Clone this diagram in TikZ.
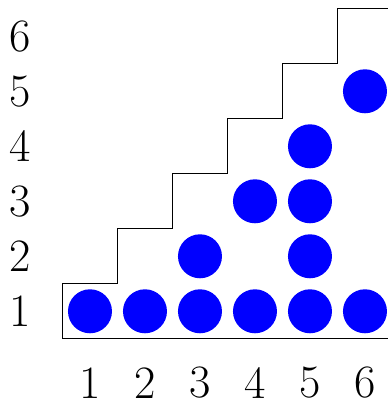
\documentclass[tikz,border=0pt]{standalone}
\usepackage{tikz}
\usetikzlibrary{positioning}

\begin{document}
\begin{tikzpicture}[
    dot/.style={circle, fill=blue, inner sep=0pt, minimum size=0.8cm},
    lbl/.style={font=\fontsize{24}{29}\selectfont, inner sep=0pt}
]
\useasboundingbox (-0.636,-0.613) rectangle (6.418,6.66);

% staircase and base line
\begin{scope}
\clip (-0.636,-0.613) rectangle (6.418,6.66);
\draw (0.5,0.5) -- (0.5,1.5) -- (1.5,1.5) -- (1.5,2.5) -- (2.5,2.5)
    -- (2.5,3.5) -- (3.5,3.5) -- (3.5,4.5) -- (4.5,4.5) -- (4.5,5.5)
    -- (5.5,5.5) -- (5.5,6.5) -- (6.6,6.5);
\draw (0.5,0.5) -- (6.6,0.5);
\end{scope}

% axis labels
\foreach \i in {1,...,6} {
    \node[lbl] (col\i) at (\i,-0.3) {\i};
    \node[lbl] (row\i) at (-0.27,\i) {\i};
}

% dots
\foreach \x/\y in {1/1,2/1,3/1,4/1,5/1,6/1,3/2,5/2,4/3,5/3,5/4,6/5}
    \node[dot] (d\x\y) at (\x,\y) {};

\end{tikzpicture}
\end{document}
